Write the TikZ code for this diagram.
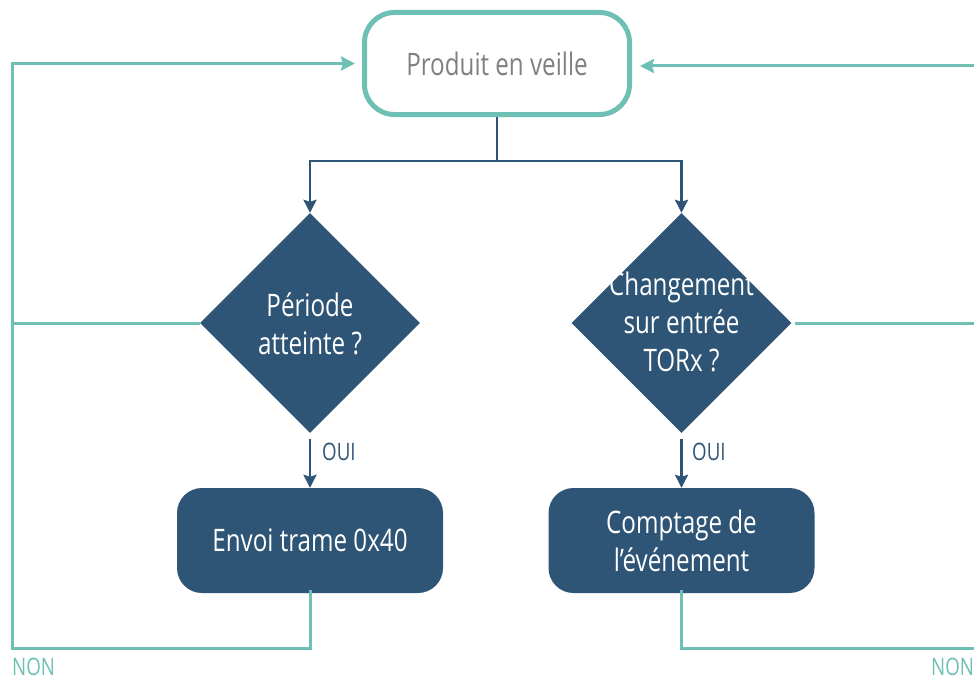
\documentclass[tikz,border=0pt]{standalone}
\usepackage{fontspec}
\setmainfont[FakeStretch=0.78]{Open Sans}
\usetikzlibrary{shapes.geometric,arrows.meta}
\definecolor{teal1}{HTML}{6EC0B4}
\definecolor{navy1}{HTML}{2E5576}
\definecolor{gray1}{HTML}{808080}
\begin{document}
\begin{tikzpicture}[x=1pt,y=-1pt,
  startbox/.style={draw=teal1,line width=5pt,fill=white,rounded corners=30pt,
    minimum width=265pt,minimum height=102pt,inner sep=0pt,text=gray1,
    font=\fontsize{31}{38}\selectfont},
  decision/.style={diamond,aspect=1,fill=navy1,minimum width=220pt,minimum height=220pt,inner sep=0pt},
  dtext/.style={text=white,align=center,font=\fontsize{31}{38}\selectfont},
  action/.style={fill=navy1,rounded corners=25pt,minimum width=266pt,minimum height=105pt,
    inner sep=0pt,text=white,align=center,font=\fontsize{31}{38}\selectfont},
  darrow/.style={draw=navy1,line width=2.5pt,-{Stealth[length=13pt,width=13pt,inset=2pt]}},
  tline/.style={draw=teal1,line width=3pt},
  tarrow/.style={tline,-{Stealth[length=14pt,width=14pt,inset=2pt]}},
  oui/.style={text=navy1,font=\fontsize{24}{28}\selectfont,anchor=base west,inner sep=0pt},
  non/.style={text=teal1,font=\fontsize{24}{28}\selectfont,anchor=base west,inner sep=0pt}
]
\useasboundingbox[fill=white] (0,0) rectangle (974,677);

\node[startbox] (top) at (497,63.5) {Produit en veille};

\node[decision] (d1) at (310,323) {};
\node[dtext] (d1t) at (310,324) {Période\\atteinte ?};
\node[decision] (d2) at (681.5,323) {};
\node[dtext] (d2t) at (681.5,322) {Changement\\sur entrée\\TORx ?};

\node[action] (b1) at (310,540.5) {Envoi trame 0x40};
\node[action] (b2) at (681.5,540.5) {Comptage de\\l’événement};

% top split
\coordinate (split) at (497,161);
\draw[navy1,line width=2.5pt] (top.south) -- (split);
\draw[darrow] (split) -| (d1.north);
\draw[darrow] (split) -| (d2.north);

% OUI arrows
\draw[darrow,shorten <=6pt] (d1.south) -- (b1.north);
\draw[darrow,shorten <=6pt] (d2.south) -- (b2.north);
\node[oui] (oui1) at (322,460) {OUI};
\node[oui] (oui2) at (692,460) {OUI};

% left loop
\coordinate (lb) at (310,648);
\coordinate (ll) at (12,648);
\coordinate (lt) at (12,63.5);
\coordinate (lm) at (12,323);
\draw[tarrow,shorten >=7pt,line join=miter] ([yshift=3pt]b1.south) -- (lb) -- (ll) -- (lt) -- (top.west);
\draw[tline] (d1.west) -- (lm);

% right loop
\coordinate (rb) at (681.5,648);
\coordinate (rr) at (985,648);
\coordinate (rm) at (985,323);
\coordinate (rt) at (985,66);
\draw[tline,line join=miter] ([yshift=3pt]b2.south) -- (rb) -- (rr);
\draw[tline] ([xshift=3pt]d2.east) -- (rm);
\draw[tarrow,shorten >=8pt] (rt) -- (top.east |- rt);

\node[non] (non1) at (12,675) {NON};
\node[non] (non2) at (931,675) {NON};
\end{tikzpicture}
\end{document}
